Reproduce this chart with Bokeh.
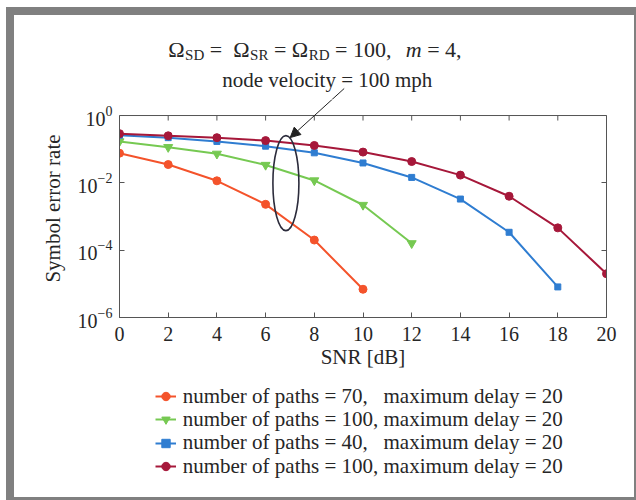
from bokeh.plotting import figure
from bokeh.models import (LogAxis, FixedTicker, Legend, LegendItem, Label, Span,
                          Arrow, NormalHead, Range1d, LogTickFormatter, CustomJSTickFormatter)
from bokeh.layouts import column
from bokeh.embed import file_html
from bokeh.resources import INLINE

# ---------------- data ----------------
snr_a = [0, 2, 4, 6, 8, 10]
ser_a = [0.076, 0.035, 0.0115, 0.0023, 2.0e-4, 6.9e-6]          # paths=70

snr_b = [0, 2, 4, 6, 8, 10, 12]
ser_b = [0.17, 0.115, 0.073, 0.034, 0.0118, 0.0022, 1.6e-4]      # paths=100 (triangles)

snr_c = [0, 2, 4, 6, 8, 10, 12, 14, 16, 18]
ser_c = [0.26, 0.22, 0.17, 0.123, 0.078, 0.039, 0.0145, 0.0033, 3.4e-4, 8.1e-6]  # paths=40

snr_d = [0, 2, 4, 6, 8, 10, 12, 14, 16, 18, 20]
ser_d = [0.29, 0.25, 0.22, 0.18, 0.129, 0.082, 0.043, 0.017, 0.0040, 4.6e-4, 2.0e-5]  # paths=100

labels = [
    "number of paths = 70,\u00a0\u00a0 maximum delay = 20",
    "number of paths = 100, maximum delay = 20",
    "number of paths = 40,\u00a0\u00a0 maximum delay = 20",
    "number of paths = 100, maximum delay = 20",
]
x_ticks = [0, 2, 4, 6, 8, 10, 12, 14, 16, 18, 20]
y_ticks = [1e-6, 1e-4, 1e-2, 1]
y_min, y_max = 1e-6, 1.0

# ---------------- calibration of the reference picture (pixels) ----------------
X0, XPU = 119.3, 24.35      # x=0 position, pixels per dB
Y0, YPD = 115.0, 33.6       # y=10^0 position, pixels per decade
TOP_PX = 15.0               # top of the title strip
SPLIT_PX = 99.0             # where the title strip ends and the plot canvas starts
LEG_TOP_PX, LEG_BOTTOM_PX = 377.0, 497.0
LEG_ROWS_PX = [396.0, 419.3, 442.7, 466.0]
LEG_LEFT_PX = 155.0

def to_data(X, Y):
    return (X - X0) / XPU, 10 ** (-(Y - Y0) / YPD)

# ---------------- styling ----------------
FONT = "Liberation Serif"
TXT = "#262626"
AX = "#555555"
colors = ["#F4532B", "#76C952", "#2F7DD1", "#A6183A"]
BL, BR = 105, 28

def bare_fig(height, y_range):
    f = figure(width=620, height=height, x_range=Range1d(0, 20), y_range=y_range,
               y_axis_type="log", output_backend="svg", toolbar_location=None,
               x_axis_location=None, y_axis_location=None,
               min_border_left=BL, min_border_right=BR, min_border_top=0, min_border_bottom=0)
    f.grid.visible = False
    f.outline_line_color = None
    f.background_fill_color = "white"
    f.border_fill_color = "white"
    return f

split_val = to_data(X0, SPLIT_PX)[1]
top_val = to_data(X0, TOP_PX)[1]

# ---------------- main plot (frame reaches a little above 10^0) ----------------
p = figure(width=620, height=278, y_axis_type="log",
           x_range=Range1d(0, 20), y_range=Range1d(y_min, split_val),
           output_backend="svg", toolbar_location=None,
           min_border_left=BL, min_border_right=BR,
           min_border_top=0, min_border_bottom=60)
p.background_fill_color = "white"
p.border_fill_color = "white"
p.outline_line_color = None
p.grid.visible = False

def style_axis(ax, show_labels=True):
    ax.major_tick_in = 5
    ax.major_tick_out = 0
    ax.minor_tick_line_color = None
    ax.axis_line_color = AX
    ax.major_tick_line_color = AX
    ax.major_label_text_font = FONT
    ax.major_label_text_font_size = "20px"
    ax.major_label_text_color = TXT
    ax.axis_label_text_font = FONT
    ax.axis_label_text_font_size = "21px"
    ax.axis_label_text_font_style = "normal"
    ax.axis_label_text_color = TXT
    if not show_labels:
        ax.formatter = CustomJSTickFormatter(code="return ''")

xa = p.xaxis[0]
xa.ticker = FixedTicker(ticks=x_ticks)
xa.axis_label = "SNR [dB]"
xa.major_label_standoff = 9
xa.axis_label_standoff = 1
style_axis(xa)

ya = p.yaxis[0]
ya.ticker = FixedTicker(ticks=y_ticks)
ya.formatter = LogTickFormatter()
ya.bounds = (y_min, y_max)
ya.axis_label = "Symbol error rate"
ya.major_label_standoff = 7
ya.axis_label_standoff = 10
style_axis(ya)

right = LogAxis(ticker=FixedTicker(ticks=y_ticks), bounds=(y_min, y_max))
style_axis(right, False)
p.add_layout(right, "right")

# top edge of the box with inward ticks
p.add_layout(Span(location=y_max, dimension="width", line_color=AX, line_width=1))
tick_end = to_data(X0, Y0 + 5)[1]
p.segment(x0=x_ticks, y0=[y_max] * len(x_ticks), x1=x_ticks, y1=[tick_end] * len(x_ticks),
          line_color=AX, line_width=1)

series = [(snr_a, ser_a, "circle", 8), (snr_b, ser_b, "inverted_triangle", 9),
          (snr_c, ser_c, "square", 6), (snr_d, ser_d, "circle", 8)]
for (xs, ys, mk, sz), col in zip(series, colors):
    p.line(xs, ys, line_color=col, line_width=2)
    p.scatter(xs, ys, marker=mk, size=sz, fill_color=col, line_color=col)

ell_x, ell_y = to_data(285.7, 182.5)
p.ellipse(x=ell_x, y=ell_y, width=26, height=95, width_units="screen",
          height_units="screen", fill_color=None, line_color="#2c2c3c", line_width=1.6)

ax0, ay0 = to_data(344, 88)
ax1, ay1 = to_data(290, 137)
p.add_layout(Arrow(x_start=ax0, y_start=ay0, x_end=ax1, y_end=ay1, line_color="#222222",
                   line_width=1,
                   end=NormalHead(size=10, fill_color="#222222", line_color="#222222")))

# ---------------- title strip (same x/y mapping, above the plot) ----------------
t = bare_fig(84, Range1d(split_val, top_val))
t.add_layout(Arrow(x_start=ax0, y_start=ay0, x_end=ax1, y_end=ay1, line_color="#222222",
                   line_width=1, end=None))

F, S = 22, 15
W = {"Ω": 0.768, "S": 0.556, "D": 0.722, "R": 0.667, "=": 0.564, " ": 0.25,
     "1": 0.5, "0": 0.5, ",": 0.25, "m": 0.722, "4": 0.5}
def tw(s, size):
    return sum(W.get(c, 0.5) for c in s) * size

segs = [("Ω", F, 0, "normal"), ("SD", S, 0, "normal"), ("=", F, 0.25, "normal"),
        ("Ω", F, 0.5, "normal"), ("SR", S, 0, "normal"), ("=", F, 0.25, "normal"),
        ("Ω", F, 0.25, "normal"), ("RD", S, 0, "normal"), ("= 100,", F, 0.25, "normal"),
        ("m", F, 0.65, "italic"), ("= 4,", F, 0.25, "normal")]
xcur = 168.0
for txt, size, gap, style in segs:
    xcur += gap * F
    base = 49.0 if size == F else 54.0
    lx, ly = to_data(xcur, base)
    t.add_layout(Label(x=lx, y=ly, text=txt, text_font=FONT, text_font_size=f"{size}px",
                       text_font_style=style, text_color=TXT, text_baseline="alphabetic",
                       text_align="left"))
    xcur += tw(txt, size)

lx, ly = to_data(222, 79.5)
t.add_layout(Label(x=lx, y=ly, text="node velocity = 100 mph", text_font=FONT,
                   text_font_size="21px", text_color=TXT, text_baseline="alphabetic",
                   text_align="left"))

# ---------------- legend strip (below the plot), one legend per row ----------------
q = bare_fig(int(LEG_BOTTOM_PX - LEG_TOP_PX), Range1d(10, 1000))  # series off-range: legend only
ROW_H = 25.3
for (xs, ys, mk, sz), col, lab, row_px in zip(series, colors, labels, LEG_ROWS_PX):
    lr = q.line(xs, ys, line_color=col, line_width=2)
    sr = q.scatter(xs, ys, marker=mk, size=sz, fill_color=col, line_color=col)
    lg = Legend(items=[LegendItem(label=lab, renderers=[lr, sr])],
                location=(LEG_LEFT_PX - X0, LEG_BOTTOM_PX - (row_px + ROW_H / 2)),
                orientation="vertical")
    lg.label_text_font = FONT
    lg.label_text_font_size = "21px"
    lg.label_text_color = TXT
    lg.glyph_width = 21
    lg.glyph_height = 22
    lg.label_height = 22
    lg.label_standoff = 7
    lg.spacing = 0
    lg.padding = 0
    lg.margin = 0
    lg.border_line_color = None
    lg.background_fill_alpha = 0
    q.add_layout(lg, "center")

layout = column(t, p, q, spacing=0,
                styles={"outline": "8px solid #808080", "margin-left": "14px",
                        "margin-top": "15px"})

open("out.html", "w").write(file_html(layout, INLINE))
